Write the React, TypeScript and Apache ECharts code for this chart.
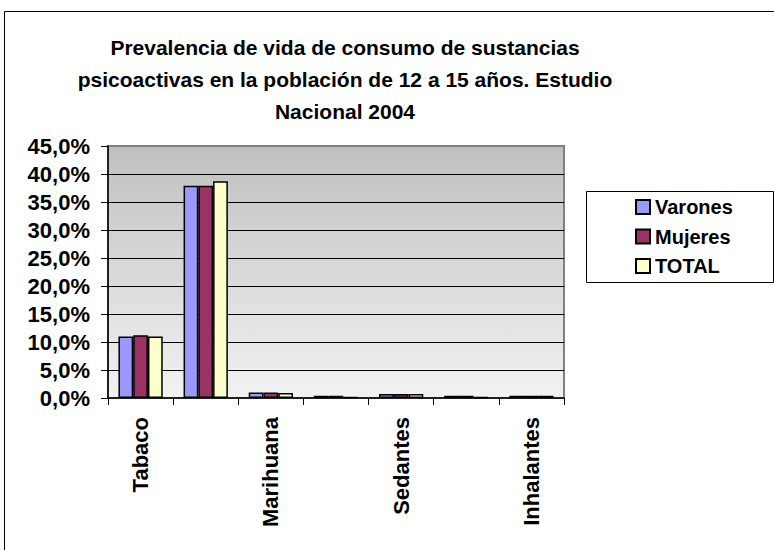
import React, { useEffect, useRef } from "react";
import * as echarts from "echarts";

const categories = ["Tabaco", "Alcohol", "Marihuana", "Cocaína", "Sedantes", "Estimulantes", "Inhalantes"];
const varones = [11.0, 37.9, 1.0, 0.4, 0.7, 0.4, 0.4];
const mujeres = [11.2, 37.9, 1.0, 0.4, 0.7, 0.4, 0.4];
const total = [11.0, 38.7, 0.9, 0.2, 0.7, 0.2, 0.4];
const seriesNames = ["Varones", "Mujeres", "TOTAL"];
const seriesColors = ["#9999FF", "#993366", "#FFFFCC"];
const titleLines = [
  "Prevalencia de vida de consumo de sustancias",
  "psicoactivas en la población de 12 a 15 años. Estudio",
  "Nacional 2004",
];

const FONT = "'Liberation Sans', Arial, sans-serif";

export default function App() {
  const ref = useRef<HTMLDivElement>(null);
  useEffect(() => {
    if (!ref.current) return;
    const chart = echarts.init(ref.current, undefined, { renderer: "svg" });
    const data = [varones, mujeres, total];
    const splitColors = ["rgba(0,0,0,0)", "#000", "#000", "#000", "#000", "#000", "#000", "#000", "#000", "#808080"];
    chart.setOption({
      animation: false,
      backgroundColor: "#ffffff",
      textStyle: { fontFamily: FONT },
      graphic: [
        {
          type: "rect",
          shape: { x: 4.5, y: 11.5, width: 900, height: 700 },
          style: { fill: "none", stroke: "#000", lineWidth: 1 },
          silent: true,
          z: 0,
        },
        {
          type: "text",
          x: 345,
          y: 31,
          style: {
            text: titleLines.join("\n"),
            font: `bold 21px ${FONT}`,
            fill: "#000",
            textAlign: "center",
            textVerticalAlign: "top",
            lineHeight: 32,
          },
        },
        {
          type: "rect",
          shape: { x: 586.5, y: 191.5, width: 187, height: 91 },
          style: { fill: "#fff", stroke: "#000", lineWidth: 1 },
          silent: true,
          z: 1,
        },
      ],
      legend: {
        orient: "vertical",
        left: 635,
        top: 197,
        padding: 0,
        itemWidth: 14,
        itemHeight: 14,
        itemGap: 9.5,
        icon: "rect",
        z: 5,
        textStyle: { fontFamily: FONT, fontSize: 20, fontWeight: "bold", color: "#000", lineHeight: 20 },
        data: seriesNames,
      },
      grid: {
        left: 108,
        top: 146,
        width: 456,
        height: 252,
        show: true,
        borderColor: "#808080",
        borderWidth: 2,
        backgroundColor: new echarts.graphic.LinearGradient(0, 0, 0, 1, [
          { offset: 0, color: "#c0c0c0" },
          { offset: 1, color: "#f2f2f2" },
        ]),
      },
      xAxis: {
        type: "category",
        data: categories,
        boundaryGap: true,
        axisLine: { show: true, lineStyle: { color: "#000", width: 1.5 } },
        axisTick: { show: true, interval: 0, length: 7, lineStyle: { color: "#000", width: 1 } },
        axisLabel: {
          interval: 1,
          rotate: 90,
          margin: 19,
          fontFamily: FONT,
          fontSize: 22,
          fontWeight: "bold",
          color: "#000",
        },
        splitLine: { show: false },
      },
      yAxis: {
        type: "value",
        min: 0,
        max: 45,
        interval: 5,
        axisLine: { show: true, lineStyle: { color: "#000", width: 1.5 } },
        axisTick: { show: true, length: 7, lineStyle: { color: "#000", width: 1 } },
        axisLabel: {
          margin: 18,
          fontFamily: FONT,
          fontSize: 22,
          fontWeight: "bold",
          color: "#000",
          formatter: (v: number) => v.toFixed(1).replace(".", ",") + "%",
        },
        splitLine: { show: true, lineStyle: { color: splitColors, width: 1 } },
      },
      series: seriesNames.map((name, i) => ({
        name,
        type: "bar",
        data: data[i],
        barGap: "0%",
        barCategoryGap: "32%",
        itemStyle: { color: seriesColors[i], borderColor: "#000", borderWidth: 1.5 },
      })),
    });
    return () => chart.dispose();
  }, []);
  return <div ref={ref} style={{ position: "fixed", left: 0, top: 0, width: 774, height: 550 }} />;
}
